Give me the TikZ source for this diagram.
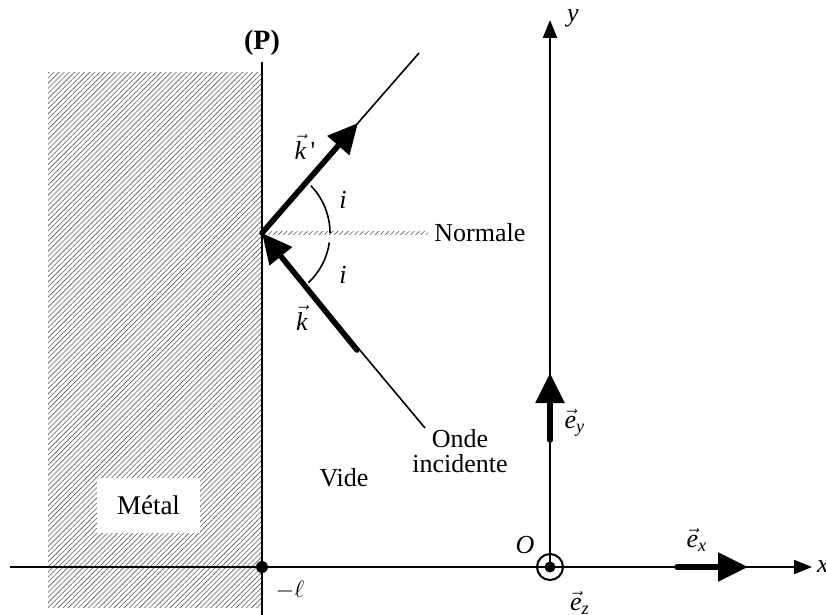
\documentclass[tikz,border=0pt]{standalone}
\usepackage{fontspec}
\setmainfont{Liberation Serif}
\usetikzlibrary{arrows.meta,patterns.meta}
\newcommand\myvec[1]{\vec{\mathit{#1}}}
\begin{document}
\begin{tikzpicture}[x=0.5pt,y=-0.5pt,
  lbl/.style={font=\fontsize{13}{12.5}\selectfont, inner sep=1pt},
  axisline/.style={line width=1pt,-{Triangle[length=9pt,width=7pt]}},
  rayline/.style={line width=0.8pt},
  vecthick/.style={line width=2.8pt,line cap=round,-{Triangle[length=15pt,width=14pt]}},
  hatch/.style={pattern={Lines[angle=45,distance=1.8pt,line width=0.3pt]},pattern color=black!65}
]
\useasboundingbox (0,0) rectangle (826,615);
% metal region
\fill[hatch] (48,73) rectangle (262,607);
\node[lbl, fill=white, minimum width=51.5pt, minimum height=27.5pt] (metal) at (148.5,505.5) {\fontsize{13.5}{13}\selectfont Métal};
% plane
\coordinate (Ptop) at (262,62);
\coordinate (Pbot) at (262,615);
\draw[line width=1.4pt] (Ptop) -- (Pbot);
\node[lbl, font=\fontsize{14}{13}\selectfont\bfseries] (P) at (262,43) {(P)};
% axes
\coordinate (O) at (550,567);
\coordinate (xl) at (10,567);
\coordinate (xr) at (812,567);
\coordinate (yt) at (550,20);
\draw[axisline] (xl) -- (xr);
\draw[axisline] (O) -- (yt);
\node[lbl] (xlab) at (823,567) {$\mathit{x}$};
\node[lbl] (ylab) at (573,18) {$\mathit{y}$};
\node[lbl] (Olab) at (525,545) {$\mathit{O}$};
\draw[line width=1pt] (O) circle (13);
\fill (O) circle (5.5);
\node[lbl] (ez) at (580,603) {$\myvec{e}_{\mathit{z}}$};
% unit vectors
\coordinate (ex0) at (677,567);
\coordinate (ex1) at (748,567);
\draw[vecthick] (ex0) -- (ex1);
\node[lbl] (exl) at (697,540) {$\myvec{e}_{\mathit{x}}$};
\coordinate (ey0) at (550,440);
\coordinate (ey1) at (550,373);
\draw[vecthick] (ey0) -- (ey1);
\node[lbl] (eyl) at (575,423) {$\myvec{e}_{\mathit{y}}$};
% point -l
\coordinate (L) at (262,567);
\fill (L) circle (6);
\node[lbl] (Llab) at (290,590) {$-\ell$};
% incidence
\coordinate (I) at (262,233);
\coordinate (R) at (419,53);
\coordinate (Rk) at (358,123);
\coordinate (A) at (425,428);
\coordinate (Ak) at (357,350);
\fill[hatch] (262,231.2) rectangle (428,235);
\node[lbl, anchor=west] (norm) at (432,233) {Normale};
\draw[rayline] (I) -- (R);
\draw[vecthick] (I) -- (Rk);
\draw[rayline] (A) -- (I);
\draw[vecthick] (Ak) -- (I);
\draw[rayline] (I) ++(-44:68) arc[start angle=-44,end angle=0,radius=68];
\draw[rayline] (I) ++(8:68) arc[start angle=8,end angle=47,radius=68];
\node[lbl] (i1) at (343,200) {$\mathit{i}$};
\node[lbl] (i2) at (343,275) {$\mathit{i}$};
\node[lbl] (kp) at (305,147) {$\myvec{k}$\,\textquotesingle};
\node[lbl] (k) at (302,318) {$\myvec{k}$};
\node[lbl, align=center] (onde) at (460,451) {Onde\\incidente};
\node[lbl] (vide) at (344,478) {Vide};
\end{tikzpicture}
\end{document}
